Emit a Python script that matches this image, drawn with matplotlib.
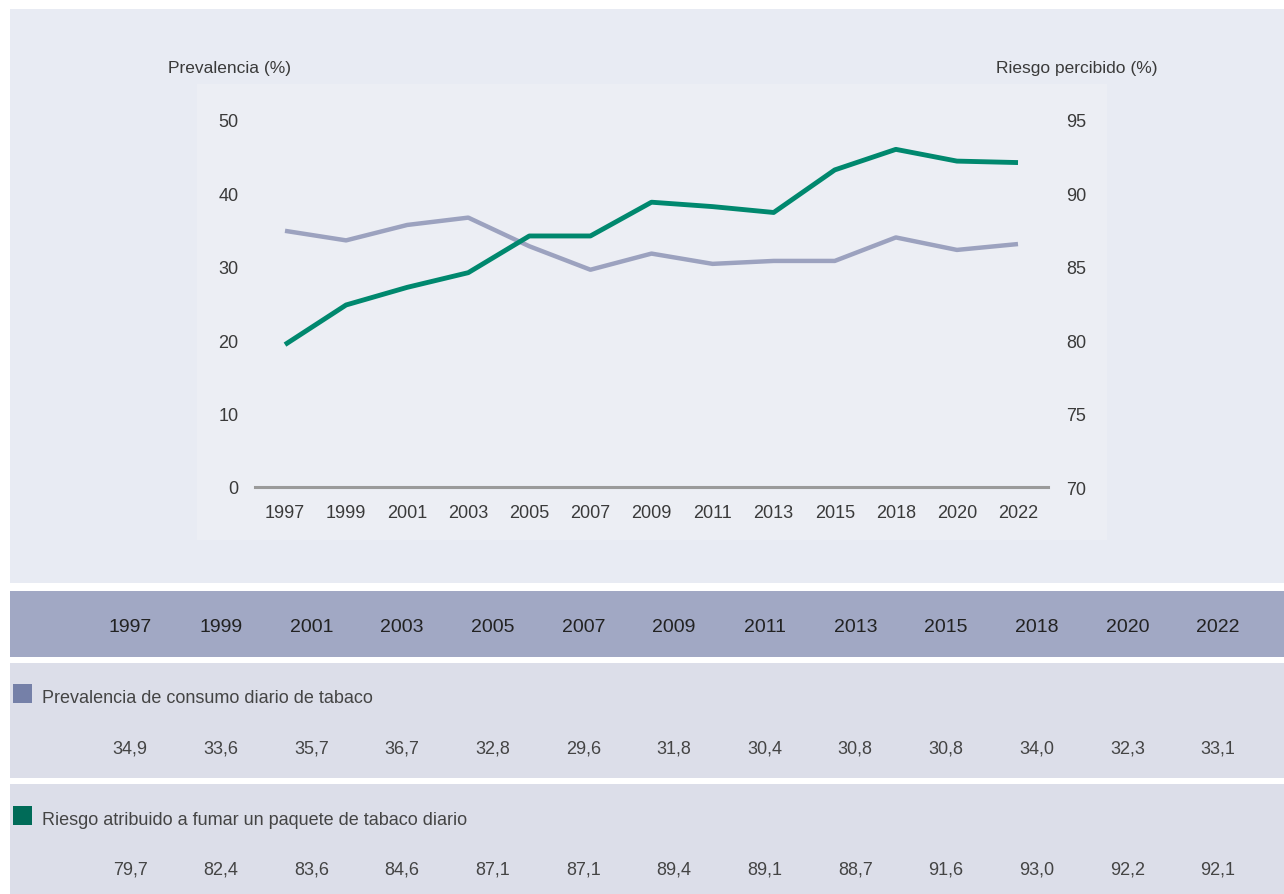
import matplotlib
matplotlib.use("Agg")
import matplotlib.pyplot as plt
from matplotlib.patches import Rectangle

years = ["1997", "1999", "2001", "2003", "2005", "2007", "2009", "2011", "2013", "2015", "2018", "2020", "2022"]
prevalencia = [34.9, 33.6, 35.7, 36.7, 32.8, 29.6, 31.8, 30.4, 30.8, 30.8, 34.0, 32.3, 33.1]
riesgo = [79.7, 82.4, 83.6, 84.6, 87.1, 87.1, 89.4, 89.1, 88.7, 91.6, 93.0, 92.2, 92.1]
left_ticks = [0, 10, 20, 30, 40, 50]
right_ticks = [70, 75, 80, 85, 90, 95]
label_prev = "Prevalencia de consumo diario de tabaco"
label_risk = "Riesgo atribuido a fumar un paquete de tabaco diario"

plt.rcParams['font.family'] = ['Liberation Sans', 'DejaVu Sans']

W, H = 1284, 895
fig = plt.figure(figsize=(W / 100, H / 100), dpi=100)
fig.patch.set_facecolor("white")

def rect(x0, y0, x1, y1, color, z=-10):
    fig.patches.append(Rectangle((x0 / W, 1 - y1 / H), (x1 - x0) / W, (y1 - y0) / H,
                                 transform=fig.transFigure, facecolor=color, edgecolor="none", zorder=z))

rect(10, 10, 1284, 584, "#e8ebf3")
rect(197, 85, 1107, 541, "#eceef4")
rect(10, 592, 1284, 658, "#a1a8c4")
rect(10, 664, 1284, 779, "#dcdee9")
rect(10, 785, 1284, 895, "#dcdee9")

prev_line = "#9ca2bf"
risk_line = "#00886e"
prev_sq = "#7580a8"
risk_sq = "#006b58"
txt = "#3a3a3a"

ax = fig.add_axes([255 / W, 1 - 488 / H, (1048 - 255) / W, (488 - 121) / H])
ax.set_facecolor("none")
x = list(range(len(years)))
ax.set_xlim(-30 * 12 / 733, 12 + 30 * 12 / 733)
ax.set_ylim(0, 50)
ax2 = ax.twinx()
ax2.set_ylim(70, 95)
ax2.set_facecolor("none")

ax.plot(x, prevalencia, color=prev_line, lw=3.2, solid_capstyle="butt", solid_joinstyle="round", zorder=3)
ax2.plot(x, riesgo, color=risk_line, lw=3.5, solid_capstyle="butt", solid_joinstyle="round", zorder=4)

for a in (ax, ax2):
    for s in a.spines.values():
        s.set_visible(False)
ax.axhline(0, color="#9a9a9a", lw=2.2, zorder=2, clip_on=False)

ax.set_yticks(left_ticks)
ax.set_yticklabels([str(v) for v in left_ticks])
ax2.set_yticks(right_ticks)
ax2.set_yticklabels([str(v) for v in right_ticks])
ax.set_xticks(x)
ax.set_xticklabels(years)
ax.tick_params(axis="y", length=0, pad=12, labelsize=13, labelcolor=txt)
ax2.tick_params(axis="y", length=0, pad=13, labelsize=13, labelcolor=txt)
ax.tick_params(axis="x", length=0, pad=12.5, labelsize=13, labelcolor=txt)

fig.text(168 / W, 1 - 69 / H, "Prevalencia (%)", ha="left", va="center", fontsize=12.5, color=txt)
fig.text(1158 / W, 1 - 69 / H, "Riesgo percibido (%)", ha="right", va="center", fontsize=12.5, color=txt)

# Table
col_x0, col_step = 130, (1218 - 130) / 12
for i, yr in enumerate(years):
    fig.text((col_x0 + i * col_step) / W, 1 - 628 / H, yr, ha="center", va="center", fontsize=14, color="#222222")
    fig.text((col_x0 + i * col_step) / W, 1 - 749 / H, f"{prevalencia[i]:.1f}".replace(".", ","),
             ha="center", va="center", fontsize=13, color="#444444")
    fig.text((col_x0 + i * col_step) / W, 1 - 870 / H, f"{riesgo[i]:.1f}".replace(".", ","),
             ha="center", va="center", fontsize=13, color="#444444")

rect(13, 685, 32, 704, prev_sq, z=1)
rect(13, 807, 32, 826, risk_sq, z=1)
fig.text(42 / W, 1 - 699 / H, label_prev, ha="left", va="center", fontsize=13, color="#444444")
fig.text(42 / W, 1 - 821 / H, label_risk, ha="left", va="center", fontsize=13, color="#444444")

fig.savefig("out.png", dpi=100, facecolor=fig.get_facecolor())
